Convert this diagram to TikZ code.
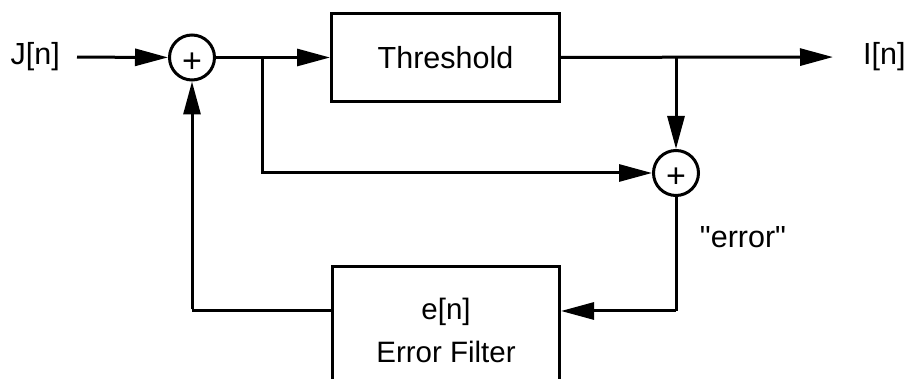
\documentclass[tikz,border=0pt]{standalone}
\usepackage{fontspec}
\setmainfont{Liberation Sans}
\usetikzlibrary{arrows.meta}

\tikzset{
    lbl/.style={font=\fontsize{30.5}{36}\selectfont, inner sep=0pt},
    sumnode/.style={draw, circle, line width=3pt, minimum size=45pt, inner sep=0pt,
        label={[inner sep=0pt, font=\fontsize{34}{34}\selectfont, yshift=-5pt]center:+}},
    blockbox/.style={draw, rectangle, line width=3pt, font=\fontsize{30.5}{36}\selectfont, align=center},
    flow/.style={line width=3pt, -{Triangle[length=33pt,width=17pt]}},
    wire/.style={line width=3pt},
}

\begin{document}
\begin{tikzpicture}[x=1pt,y=-1pt]
            \useasboundingbox (0,0) rectangle (906,379);

            \node[lbl, anchor=east, inner xsep=17pt] (jin) at (77,57) {J[n]};
            \node[sumnode] (sum1) at (192,57.5) {};
            \node[blockbox, minimum width=228pt, minimum height=88pt] (thr) at (445.5,57.5) {Threshold};
            \node[lbl, anchor=west, inner xsep=30pt] (iout) at (833,57) {I[n]};
            \node[sumnode] (sum2) at (676,173) {};
            \node[lbl] (errlbl) at (743,237) {\textquotedbl error\textquotedbl};
            \node[blockbox, anchor=north, minimum width=227pt, inner ysep=32pt, text depth=60pt,
                font=\fontsize{29.5}{43}\selectfont] (err) at (446,265) {e[n]\\Error Filter};

            \coordinate (b1) at (262,57.5);
            \coordinate (b2) at (sum2 |- thr);
            \coordinate (ecorner) at (676,311);

            % forward path
            \draw[flow] (jin) -- (sum1);
            \draw[flow] (sum1) -- (thr);
            \draw[flow] (thr) -- (iout);

            % error computation
            \draw[flow] (b2) -- (sum2);
            \draw[flow] (b1) -- (b1 |- sum2) -- (sum2);

            % feedback through the filter
            \draw[wire] (sum2) -- (ecorner);
            \draw[flow] (ecorner) -- (ecorner -| err.east);
            \draw[wire] (ecorner -| err.west) -- (ecorner -| sum1);
            \draw[flow] ([yshift=1.5pt]ecorner -| sum1) -- (sum1);
        \end{tikzpicture}
\end{document}
